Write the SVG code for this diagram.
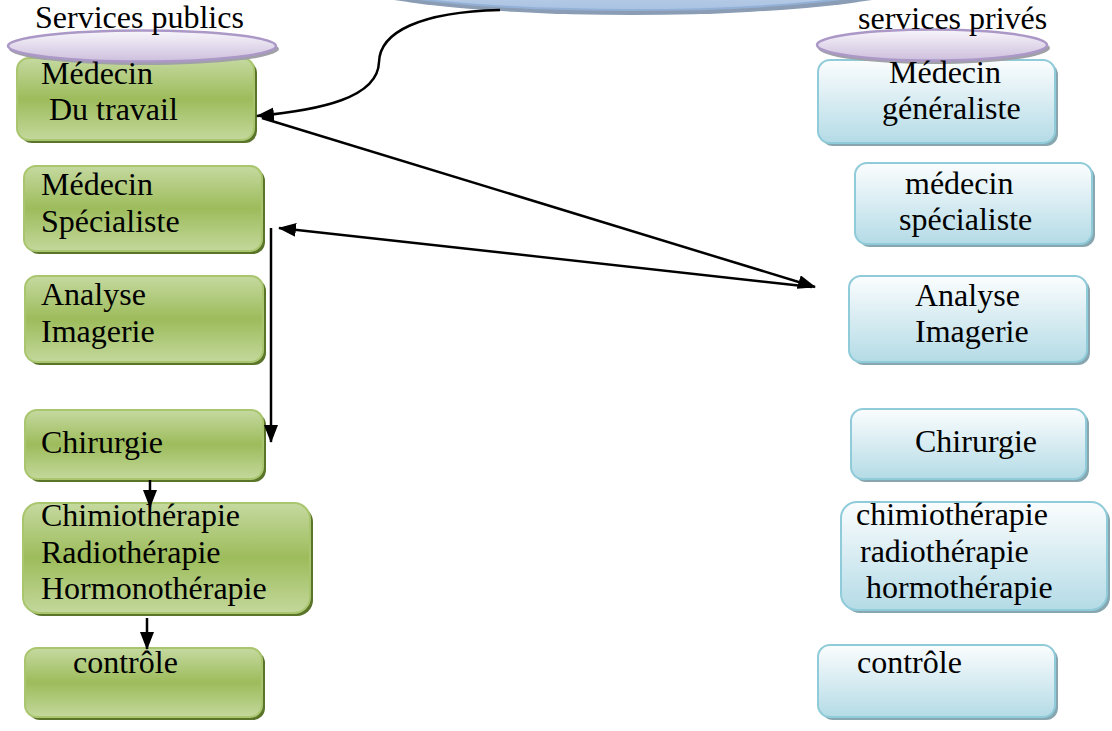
<svg xmlns="http://www.w3.org/2000/svg" width="1112" height="731" viewBox="0 0 1112 731">
<defs>
<linearGradient id="gG" x1="0" y1="0" x2="0" y2="1">
<stop offset="0" stop-color="#c5d9a0"/><stop offset="0.5" stop-color="#9dbc5b"/><stop offset="1" stop-color="#c3d89c"/>
</linearGradient>
<linearGradient id="gB" x1="0" y1="0" x2="0" y2="1">
<stop offset="0" stop-color="#fbfdfe"/><stop offset="1" stop-color="#b4dbe6"/>
</linearGradient>
<linearGradient id="gP" x1="0" y1="0" x2="0" y2="1">
<stop offset="0" stop-color="#f8f6fb"/><stop offset="1" stop-color="#cdbfdd"/>
</linearGradient>
<linearGradient id="gT" x1="0" y1="0" x2="0" y2="1">
<stop offset="0" stop-color="#e4ecf6"/><stop offset="0.6" stop-color="#c9d9ee"/><stop offset="1" stop-color="#a9c2e2"/>
</linearGradient>
<marker id="ah" markerUnits="userSpaceOnUse" markerWidth="18" markerHeight="14" refX="17" refY="7" orient="auto">
<path d="M0,0 L18,7 L0,14 z" fill="#000"/>
</marker>
</defs>
<style>
.gs{fill:#5a742a}
.g{fill:url(#gG);stroke:#a9c66f;stroke-width:2}
.bs{fill:#87a6b0}
.b{fill:url(#gB);stroke:#8fcbd9;stroke-width:2}
.ps{fill:#a0a0a8}
.p{fill:url(#gP);stroke:#ab98c7;stroke-width:2.5}
.t{font-family:"Liberation Serif","Times New Roman",serif;font-size:32px;fill:#000}
.c{fill:none;stroke:#000;stroke-width:2.5}
</style>

<g id="top-ellipse">
<ellipse cx="633" cy="-27" rx="312" ry="42" fill="#8b9db4"/>
<ellipse cx="630" cy="-31" rx="311" ry="41" fill="url(#gT)" stroke="#93b0d6" stroke-width="2"/>
</g>

<g id="pub1">
<rect x="20" y="61" width="237" height="82" rx="12" class="gs"/>
<rect x="17" y="58" width="237" height="82" rx="12" class="g"/>
</g>
<g id="pub-header">
<ellipse cx="144" cy="49" rx="135" ry="16" class="ps"/>
<ellipse cx="142" cy="46" rx="134" ry="15.5" class="p"/>
<text x="35" y="28" class="t">Services publics</text>
</g>
<g id="pub1-text">
<text x="41" y="84" class="t">Médecin</text>
<text x="49" y="120" class="t">Du travail</text>
</g>

<g id="pub2">
<rect x="27" y="169" width="238" height="85" rx="12" class="gs"/>
<rect x="24" y="166" width="238" height="85" rx="12" class="g"/>
<text x="41" y="195" class="t">Médecin</text>
<text x="41" y="232" class="t">Spécialiste</text>
</g>

<g id="pub3">
<rect x="28" y="279" width="238" height="86" rx="12" class="gs"/>
<rect x="25" y="276" width="238" height="86" rx="12" class="g"/>
<text x="41" y="305" class="t">Analyse</text>
<text x="41" y="342" class="t">Imagerie</text>
</g>

<g id="pub4">
<rect x="28" y="413" width="238" height="69" rx="12" class="gs"/>
<rect x="25" y="410" width="238" height="69" rx="12" class="g"/>
<text x="41" y="453" class="t">Chirurgie</text>
</g>

<g id="pub5">
<rect x="26" y="506" width="287" height="110" rx="16" class="gs"/>
<rect x="23" y="503" width="287" height="110" rx="16" class="g"/>
<text x="41" y="526" class="t">Chimiothérapie</text>
<text x="41" y="563" class="t">Radiothérapie</text>
<text x="41" y="599" class="t">Hormonothérapie</text>
</g>

<g id="pub6">
<rect x="28" y="651" width="237" height="69" rx="12" class="gs"/>
<rect x="25" y="648" width="237" height="69" rx="12" class="g"/>
<text x="73" y="673" class="t">contrôle</text>
</g>

<g id="priv1">
<rect x="821" y="63" width="237" height="83" rx="12" class="bs"/>
<rect x="818" y="60" width="237" height="83" rx="12" class="b"/>
</g>
<g id="priv-header">
<ellipse cx="934" cy="48" rx="116" ry="16" class="ps"/>
<ellipse cx="932" cy="45" rx="115" ry="15.5" class="p"/>
<text x="858" y="29" class="t">services privés</text>
</g>
<g id="priv1-text">
<text x="889" y="83" class="t">Médecin</text>
<text x="882" y="119" class="t">généraliste</text>
</g>

<g id="priv2">
<rect x="858" y="166" width="237" height="81" rx="12" class="bs"/>
<rect x="855" y="163" width="237" height="81" rx="12" class="b"/>
<text x="905" y="194" class="t">médecin</text>
<text x="899" y="230" class="t">spécialiste</text>
</g>

<g id="priv3">
<rect x="852" y="279" width="238" height="86" rx="12" class="bs"/>
<rect x="849" y="276" width="238" height="86" rx="12" class="b"/>
<text x="915" y="306" class="t">Analyse</text>
<text x="915" y="342" class="t">Imagerie</text>
</g>

<g id="priv4">
<rect x="854" y="412" width="235" height="70" rx="12" class="bs"/>
<rect x="851" y="409" width="235" height="70" rx="12" class="b"/>
<text x="915" y="452" class="t">Chirurgie</text>
</g>

<g id="priv5">
<rect x="844" y="505" width="266" height="108" rx="16" class="bs"/>
<rect x="841" y="502" width="266" height="108" rx="16" class="b"/>
<text x="856" y="525" class="t">chimiothérapie</text>
<text x="860" y="562" class="t">radiothérapie</text>
<text x="866" y="598" class="t">hormothérapie</text>
</g>

<g id="priv6">
<rect x="821" y="648" width="237" height="72" rx="12" class="bs"/>
<rect x="818" y="645" width="237" height="72" rx="12" class="b"/>
<text x="857" y="673" class="t">contrôle</text>
</g>

<g id="connectors">
<path class="c" d="M500,10 C 420,12 380,32 379,62 C 378,98 320,110 257,116" marker-end="url(#ah)"/>
<path class="c" d="M262,118 L815,287" marker-end="url(#ah)"/>
<path class="c" d="M812,287 L279,228" marker-end="url(#ah)"/>
<path class="c" d="M271,228 L271,442" marker-end="url(#ah)"/>
<path class="c" d="M150,480 L150,507" marker-end="url(#ah)"/>
<path class="c" d="M147,618 L147,649" marker-end="url(#ah)"/>
</g>
</svg>
